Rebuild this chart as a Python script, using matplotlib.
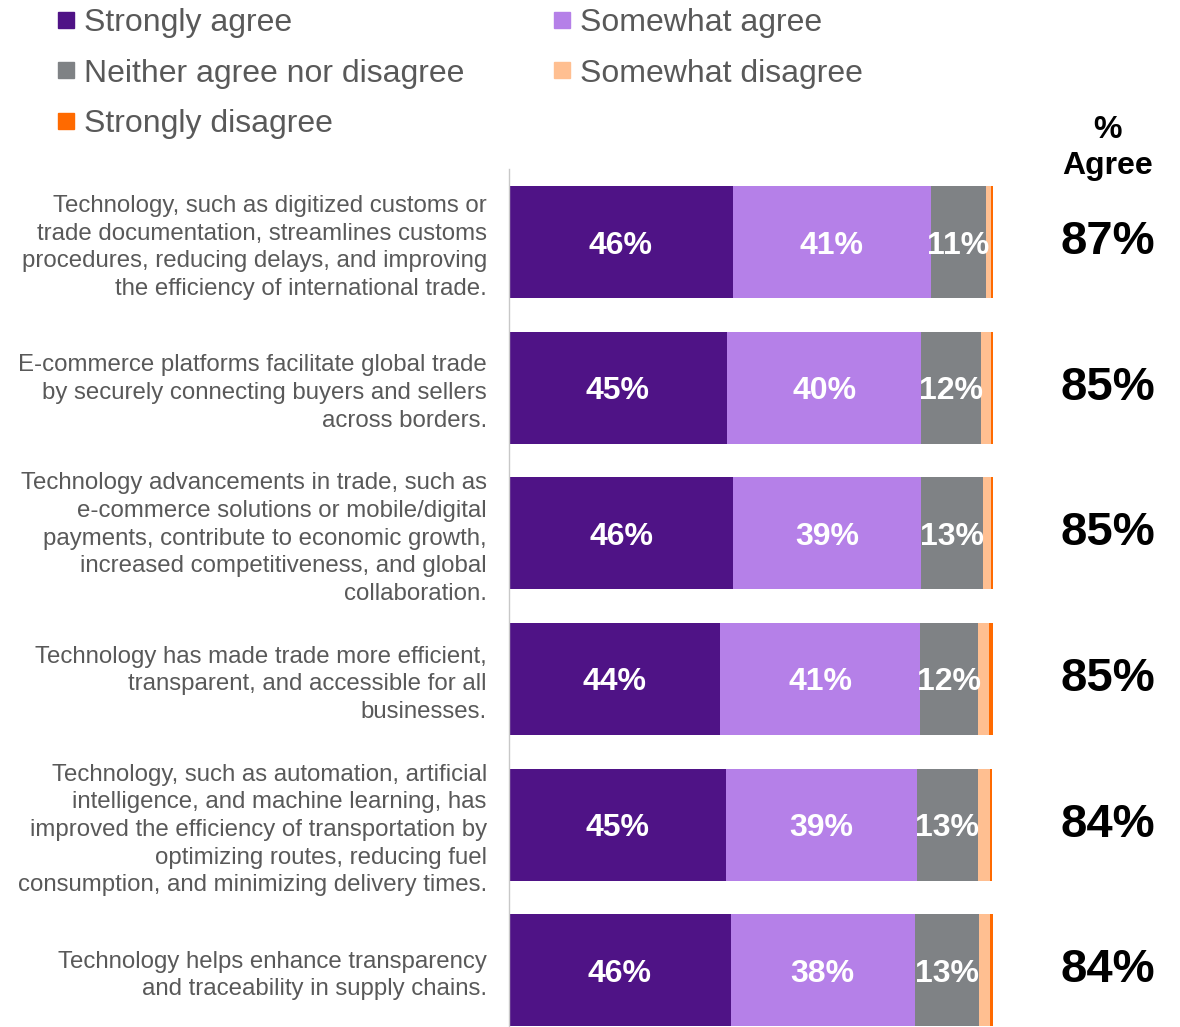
import matplotlib.pyplot as plt
from matplotlib.lines import Line2D
import numpy as np

plt.rcParams['font.family'] = ['Liberation Sans', 'DejaVu Sans']

statements = [
    'Technology, such as digitized customs or\ntrade documentation, streamlines customs\nprocedures, reducing delays, and improving\nthe efficiency of international trade.',
    'E-commerce platforms facilitate global trade\nby securely connecting buyers and sellers\nacross borders.',
    'Technology advancements in trade, such as\ne-commerce solutions or mobile/digital\npayments, contribute to economic growth,\nincreased competitiveness, and global\ncollaboration.',
    'Technology has made trade more efficient,\ntransparent, and accessible for all\nbusinesses.',
    'Technology, such as automation, artificial\nintelligence, and machine learning, has\nimproved the efficiency of transportation by\noptimizing routes, reducing fuel\nconsumption, and minimizing delivery times.',
    'Technology helps enhance transparency\nand traceability in supply chains.',
]

strongly_agree = [46.2, 45.0, 46.3, 43.6, 44.8, 45.8]
somewhat_agree = [41.0, 40.2, 38.8, 41.4, 39.4, 38.0]
neither = [11.3, 12.3, 12.8, 12.0, 12.6, 13.4]
somewhat_disagree = [1.1, 2.1, 1.7, 2.1, 2.6, 2.2]
strongly_disagree = [0.4, 0.4, 0.4, 0.8, 0.4, 0.6]

series = [
    ('Strongly agree', strongly_agree, '#4f1386', True),
    ('Somewhat agree', somewhat_agree, '#b580e8', True),
    ('Neither agree nor disagree', neither, '#7f8285', True),
    ('Somewhat disagree', somewhat_disagree, '#ffbf91', False),
    ('Strongly disagree', strongly_disagree, '#ff6a00', False),
]

fig = plt.figure(figsize=(11.8, 10.27), dpi=100)
ax = fig.add_axes([509 / 1180, -16 / 1027, 484 / 1180, 873.6 / 1027])

y = np.arange(len(statements))
left = np.zeros(len(statements))
for name, vals, color, labelled in series:
    vals = np.array(vals)
    bars = ax.barh(y, vals, left=left, height=0.77, color=color, label=name)
    if labelled:
        for b, v in zip(bars, vals):
            ax.text(b.get_x() + b.get_width() / 2, b.get_y() + b.get_height() / 2,
                    f'{round(v):d}%', ha='center', va='center_baseline', color='white',
                    fontsize=23, fontweight='bold')
    left += vals

ax.set_xlim(0, 100)
ax.set_ylim(len(statements) - 0.5, -0.5)
ax.set_yticks(y)
ax.set_yticklabels(statements, fontsize=17.3, color='#595959', linespacing=1.33)
ax.tick_params(axis='y', length=0, pad=16)
ax.set_xticks([])
for s in ['top', 'right', 'bottom']:
    ax.spines[s].set_visible(False)
ax.spines['left'].set_color('#c8c8c8')
ax.spines['left'].set_linewidth(1)

# % agree column
agree = np.array(strongly_agree) + np.array(somewhat_agree)
for yi, a in zip(y, agree):
    ax.text(123.8, yi, f'{round(a):d}%', ha='center', va='center',
            fontsize=34, fontweight='bold', color='black', clip_on=False)
fig.text(1108 / 1180, 1 - 148 / 1027, '%\nAgree', ha='center', va='center',
         fontsize=23, fontweight='bold', color='black', linespacing=1.3)

# legend, filled column by column
order = [0, 2, 4, 1, 3]
handles = [Line2D([], [], marker='s', linestyle='none', markersize=11,
                  markerfacecolor=series[i][2], markeredgecolor=series[i][2])
           for i in order]
labels = [series[i][0] for i in order]
leg = fig.legend(handles, labels, loc='upper left', bbox_to_anchor=(28 / 1180, 1.02),
                 ncol=2, frameon=False, fontsize=23, handlelength=0.6,
                 handletextpad=0.25, columnspacing=2.76, labelspacing=0.64,
                 labelcolor='#595959')

fig.savefig('out.png', dpi=100)
